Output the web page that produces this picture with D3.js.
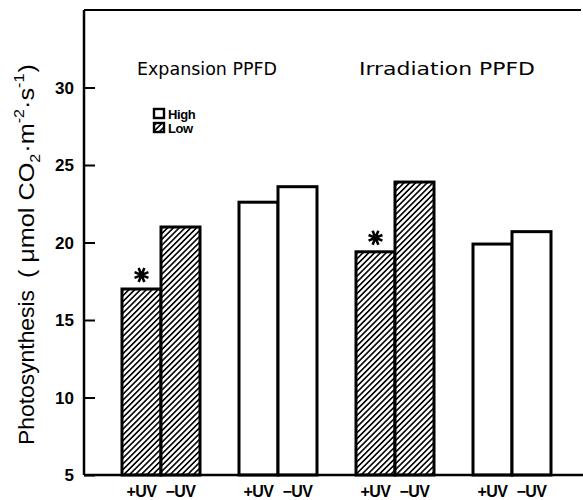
<!DOCTYPE html>
<html><head><meta charset="utf-8">
<script src="https://cdn.jsdelivr.net/npm/d3@7"></script>
<style>body{margin:0;background:#fff}</style>
</head><body>
<svg id="c" width="583" height="500"></svg>
<script>
const groups = ["G1","G2","G3","G4"];
const treatments = ["+UV","-UV"];
const values = [[17.0,21.0],[22.6,23.6],[19.4,23.9],[19.9,20.7]];
const ppfd = ["Low","High","Low","High"];
const significant = [[true,false],[false,false],[true,false],[false,false]];
const headers = [["Expansion PPFD", 207, 140],["Irradiation PPFD", 447, 176]];
const yTicks = [5,10,15,20,25,30];
const legendItems = ["High","Low"];

const svg = d3.select("#c");
const defs = svg.append("defs");
const hs = 4.1;
const pat = defs.append("pattern").attr("id","hatch").attr("patternUnits","userSpaceOnUse")
  .attr("width",hs).attr("height",hs).attr("patternTransform","rotate(45)");
pat.append("rect").attr("width",hs).attr("height",hs).attr("fill","#fff");
pat.append("line").attr("x1",0.8).attr("y1",0).attr("x2",0.8).attr("y2",hs).attr("stroke","#000").attr("stroke-width",1.6);

const x0 = 84, yTop = 10, yBot = 475;
const y = d3.scaleLinear().domain([5,35]).range([yBot,yTop]);
const xg = d3.scaleBand().domain(groups).range([102.5,570.5]).paddingInner(1/3).paddingOuter(1/6);
const xt = d3.scaleBand().domain(treatments).range([0,xg.bandwidth()]);

const font = "'Liberation Sans', Arial, sans-serif";

function asterisk(cx, cy, r) {
  let d = "";
  for (let k = 0; k < 4; k++) {
    const a = k * Math.PI / 4 + Math.PI/8;
    d += `M${cx - r*Math.cos(a)},${cy - r*Math.sin(a)}L${cx + r*Math.cos(a)},${cy + r*Math.sin(a)}`;
  }
  return d;
}

// bars
groups.forEach((g,gi)=>{
  treatments.forEach((t,ti)=>{
    const v = values[gi][ti];
    svg.append("rect")
      .attr("x", xg(g)+xt(t)).attr("y", y(v))
      .attr("width", xt.bandwidth()).attr("height", y(5)-y(v))
      .attr("fill", ppfd[gi]==="Low" ? "url(#hatch)" : "#fff")
      .attr("stroke","#000").attr("stroke-width",3);
    if (significant[gi][ti]) {
      svg.append("path").attr("d", asterisk(xg(g)+xt(t)+xt.bandwidth()/2, y(v)-14, 7.5))
        .attr("stroke","#000").attr("stroke-width",2.6).attr("fill","none");
    }
    svg.append("text").attr("x", xg(g)+xt(t)+xt.bandwidth()/2).attr("y", 497)
      .attr("text-anchor","middle").attr("font-family",font).attr("font-weight","bold")
      .attr("font-size",16).attr("letter-spacing",-0.6).text(t.replace("-","\u2212"));
  });
});

// axes frame
svg.append("line").attr("x1",x0).attr("x2",x0).attr("y1",yTop).attr("y2",yBot).attr("stroke","#000").attr("stroke-width",2.5);
svg.append("line").attr("x1",x0).attr("x2",583).attr("y1",yBot).attr("y2",yBot).attr("stroke","#000").attr("stroke-width",2.5);
svg.append("line").attr("x1",x0).attr("x2",581).attr("y1",yTop).attr("y2",yTop).attr("stroke","#000").attr("stroke-width",2);

const yAxis = d3.axisRight(y).tickValues(yTicks).tickSize(11).tickFormat("");
const ga = svg.append("g").attr("transform",`translate(${x0},0)`).call(yAxis);
ga.select(".domain").remove();
ga.selectAll("line").attr("stroke-width",2);
yTicks.forEach(t=>{
  svg.append("text").attr("x",74).attr("y",y(t)+6).attr("text-anchor","end")
    .attr("font-family",font).attr("font-weight","bold").attr("font-size",17).text(t);
});

// headers
headers.forEach(([h,cx,w])=>{
  svg.append("text").attr("x",cx).attr("y",75).attr("text-anchor","middle")
    .attr("font-family","'DejaVu Sans', sans-serif").attr("font-size",17)
    .attr("textLength",w).attr("lengthAdjust","spacingAndGlyphs").text(h);
});

// legend
legendItems.forEach((l,i)=>{
  const ly = 109 + i*14;
  svg.append("rect").attr("x",154).attr("y",ly).attr("width",10).attr("height",9)
    .attr("fill", l==="Low" ? "url(#hatch)" : "#fff").attr("stroke","#000").attr("stroke-width",2.4);
  svg.append("text").attr("x",168).attr("y",ly+10).attr("font-family",font).attr("font-weight","bold")
    .attr("font-size",13).attr("letter-spacing",-0.4).text(l);
});

// y label
const yl = svg.append("text").attr("transform","translate(34,445) rotate(-90)").attr("text-anchor","start")
  .attr("font-family",font).attr("font-size",22);
yl.append("tspan").attr("textLength",155).attr("lengthAdjust","spacingAndGlyphs").text("Photosynthesis");

const yl2g = svg.append("g").attr("transform","translate(34,278) rotate(-90)");
const yl2 = yl2g.append("text").attr("font-family",font).attr("font-size",22);
yl2.append("tspan").text("(");
yl2.append("tspan").attr("dx",6).text("\u03bcmol CO");
yl2.append("tspan").attr("font-size",14).attr("dy",6).text("2");
yl2.append("tspan").attr("dy",-6).attr("dx",1).text("\u00b7m");
yl2.append("tspan").attr("font-size",14).attr("dy",-10).text("-2");
yl2.append("tspan").attr("dy",10).text("\u00b7s");
yl2.append("tspan").attr("font-size",14).attr("dy",-10).text("-1");
yl2.append("tspan").attr("dy",10).attr("dx",1).text(")");
const len = yl2.node().getBBox().width;
yl2.attr("transform", `scale(${214/len},1)`);
</script>
</body></html>
